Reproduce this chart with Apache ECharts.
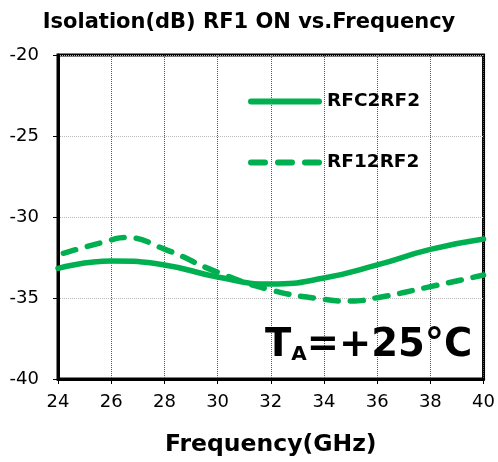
<!DOCTYPE html>
<html><head><meta charset="utf-8">
<script src="https://cdn.jsdelivr.net/npm/echarts@6/dist/echarts.min.js"></script>
<style>html,body{margin:0;padding:0;background:#fff}#c{width:498px;height:462px}</style>
</head><body><div id="c"></div>
<script>
const rfc2rf2Freq = [24, 26, 28, 30, 32, 34, 36, 38, 40];
const rfc2rf2 = [-33.17, -32.72, -32.96, -33.7, -34.14, -33.77, -32.96, -32.0, -31.36];
const rf12rf2Freq = [24.2, 26, 26.5, 28, 30, 32, 34, 35, 36, 38, 40];
const rf12rf2 = [-32.24, -31.42, -31.26, -31.98, -33.41, -34.5, -35.08, -35.19, -34.98, -34.3, -33.58];
const xTicks = [24, 26, 28, 30, 32, 34, 36, 38, 40];
const yTicks = [-40, -35, -30, -25, -20];
const green = '#00B050';
const font = 'DejaVu Sans';
const solidIcon = 'path://M3,0H71A3,3,0,0,1,71,6H3A3,3,0,0,1,3,0Z';
const dashIcon = 'path://M3,0H17A3,3,0,0,1,17,6H3A3,3,0,0,1,3,0ZM30,0H44A3,3,0,0,1,44,6H30A3,3,0,0,1,30,0ZM57,0H71A3,3,0,0,1,71,6H57A3,3,0,0,1,57,0Z';
const chart = echarts.init(document.getElementById('c'));
chart.setOption({
  animation: false,
  title: {text: 'Isolation(dB) RF1 ON vs.Frequency', left: 'center', top: 7,
    textStyle: {fontFamily: font, fontWeight: 'bold', fontSize: 21, color: '#000'}},
  grid: {left: 58, right: 11, top: 55, bottom: 83, show: true, borderColor: '#000', borderWidth: 3},
  legend: {orient: 'vertical', left: 243, top: 87, itemGap: 42, itemWidth: 74, itemHeight: 6,
    textStyle: {fontFamily: font, fontWeight: 'bold', fontSize: 18.5, color: '#000'},
    data: [{name: 'RFC2RF2', icon: solidIcon}, {name: 'RF12RF2', icon: dashIcon}]},
  xAxis: {type: 'value', min: xTicks[0], max: xTicks[xTicks.length-1], interval: 2,
    axisLine: {lineStyle: {color: '#000', width: 3}},
    axisTick: {show: true, length: 5, lineStyle: {color: '#000', width: 1}},
    axisLabel: {fontFamily: font, fontSize: 18, color: '#000', margin: 14},
    splitLine: {show: true, lineStyle: {type: 'dotted', color: '#555', width: 1}},
    name: 'Frequency(GHz)', nameLocation: 'middle', nameGap: 54,
    nameTextStyle: {fontFamily: font, fontWeight: 'bold', fontSize: 23.5, color: '#000'}},
  yAxis: {type: 'value', min: yTicks[0], max: yTicks[yTicks.length-1], interval: 5,
    axisLine: {show: true, lineStyle: {color: '#000', width: 3}},
    axisTick: {show: true, length: 5, lineStyle: {color: '#000', width: 1}},
    axisLabel: {fontFamily: font, fontSize: 18, color: '#000', margin: 19},
    splitLine: {show: true, lineStyle: {type: 'dotted', color: '#bbb', width: 1}}},
  series: [
    {name: 'RFC2RF2', type: 'line', smooth: 0.5, symbol: 'none',
      data: rfc2rf2Freq.map((f, i) => [f, rfc2rf2[i]]),
      lineStyle: {color: green, width: 5.5, cap: 'round'}, itemStyle: {color: green}},
    {name: 'RF12RF2', type: 'line', smooth: 0.5, symbol: 'none',
      data: rf12rf2Freq.map((f, i) => [f, rf12rf2[i]]),
      lineStyle: {color: green, width: 5.5, type: [13, 12], cap: 'round'}, itemStyle: {color: green}}
  ],
  graphic: [{type: 'text', left: 265, top: 326, z: 100,
    style: {text: '{t|T}{a|A}{t|=+25°C}', rich: {
      t: {fontFamily: font, fontWeight: 'bold', fontSize: 38.5, fill: '#000'},
      a: {fontFamily: font, fontWeight: 'bold', fontSize: 20, fill: '#000', verticalAlign: 'bottom'}
    }}}]
});
</script></body></html>
